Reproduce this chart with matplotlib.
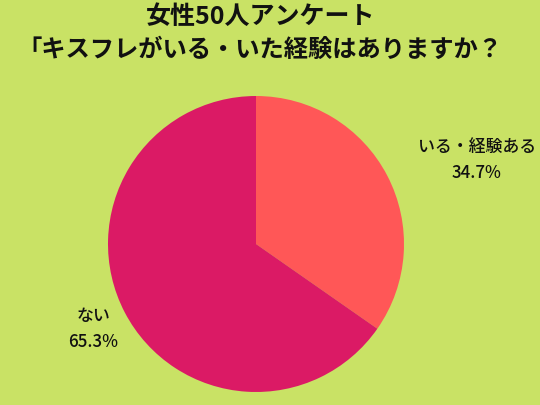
import matplotlib
matplotlib.use("Agg")
import matplotlib.pyplot as plt

plt.rcParams["font.family"] = ["Noto Sans CJK JP", "DejaVu Sans"]

labels = ["いる・経験ある", "ない"]
shares = [34.7, 65.3]
colors = ["#FF5757", "#DB1A65"]
title_lines = ["女性50人アンケート", "「キスフレがいる・いた経験はありますか？"]

W, H = 540, 405
cx, cy, rad = 256, 244, 148

fig = plt.figure(figsize=(W / 100, H / 100), dpi=100)
fig.patch.set_facecolor("#C9E265")
ax = fig.add_axes([0, 0, 1, 1])
ax.set_facecolor("#C9E265")

ax.pie(shares, colors=colors, startangle=90, counterclock=False, radius=1,
       wedgeprops=dict(linewidth=0))
ax.set_xlim(-cx / rad, (W - cx) / rad)
ax.set_ylim(-(H - cy) / rad, cy / rad)
ax.set_aspect("equal")
ax.axis("off")

label_pos = [((477 - cx) / rad, (cy - 160) / rad), ((93 - cx) / rad, (cy - 329) / rad)]
for lab, v, (x, y) in zip(labels, shares, label_pos):
    ax.text(x, y, f"{lab}\n{v}%", ha="center", va="center", fontsize=12.2,
            linespacing=1.6, color="#111111", fontweight="medium")

fig.text(261 / W, 1 - 17 / H, title_lines[0], ha="center", va="center",
         fontsize=18, fontweight="bold", color="#111111")
fig.text(260 / W, 1 - 50 / H, title_lines[1], ha="center", va="center",
         fontsize=17.5, fontweight="bold", color="#111111")

fig.savefig("out.png", dpi=100, facecolor=fig.get_facecolor())
